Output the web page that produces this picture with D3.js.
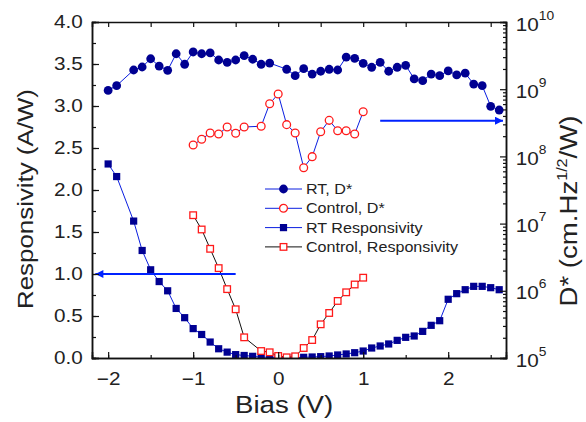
<!DOCTYPE html>
<html>
<head>
<meta charset="utf-8">
<script src="https://cdn.jsdelivr.net/npm/d3@7"></script>
<style>
body { margin: 0; background: #fff; }
text { font-family: "Liberation Sans", Arial, sans-serif; fill: #222; }
</style>
</head>
<body>
<div id="chart"></div>
<script>
var rtDBias = [-2.0, -1.9, -1.7, -1.6, -1.5, -1.4, -1.3, -1.2, -1.1, -1.0, -0.9, -0.8, -0.7, -0.6, -0.5, -0.4, -0.3, -0.2, -0.1,
    0.1, 0.2, 0.3, 0.4, 0.5, 0.6, 0.7, 0.8, 0.9, 1.0, 1.1, 1.2, 1.3, 1.4, 1.5, 1.6, 1.7, 1.8, 1.9, 2.0, 2.1, 2.2, 2.3, 2.4, 2.5, 2.6];
var rtD = [9.6e8, 1.13e9, 1.93e9, 2.14e9, 2.84e9, 2.21e9, 1.91e9, 3.37e9, 2.35e9, 3.58e9, 3.37e9, 3.46e9, 2.72e9, 2.51e9, 2.72e9, 3.16e9, 2.79e9, 2.35e9, 2.45e9,
    1.98e9, 1.59e9, 2.02e9, 1.68e9, 1.85e9, 1.98e9, 1.93e9, 3.01e9, 2.88e9, 2.43e9, 2.12e9, 2.51e9, 1.85e9, 2.12e9, 2.27e9, 1.42e9, 1.34e9, 1.68e9, 1.59e9, 1.87e9, 1.63e9, 1.73e9, 1.19e9, 1.13e9, 5.57e8, 4.9e8];

var ctrlDBias = [-1.0, -0.9, -0.8, -0.7, -0.6, -0.5, -0.4, -0.2, -0.1, 0.0, 0.1, 0.2, 0.3, 0.4, 0.5, 0.6, 0.7, 0.8, 0.9, 1.0];
var ctrlD = [1.48e8, 1.8e8, 2.23e8, 2.15e8, 2.74e8, 2.21e8, 2.74e8, 2.81e8, 6.08e8, 8.49e8, 2.97e8, 2.23e8, 6.79e7, 9.91e7, 2.33e8, 3.44e8, 2.41e8, 2.41e8, 2.15e8, 4.62e8];

var rtRespBias = [-2.0, -1.9, -1.7, -1.6, -1.5, -1.4, -1.3, -1.2, -1.1, -1.0, -0.9, -0.8, -0.7, -0.6, -0.5, -0.4, -0.3, -0.2, -0.1,
    0.0, 0.1, 0.2, 0.3, 0.4, 0.5, 0.6, 0.7, 0.8, 0.9, 1.0, 1.1, 1.2, 1.3, 1.4, 1.5, 1.6, 1.7, 1.8, 1.9, 2.0, 2.1, 2.2, 2.3, 2.4, 2.5, 2.6];
var rtResp = [2.31, 2.16, 1.63, 1.28, 1.05, 0.91, 0.80, 0.59, 0.48, 0.35, 0.28, 0.19, 0.11, 0.07, 0.04, 0.03, 0.02, 0.01, 0.01,
    0.005, 0.005, 0.006, 0.008, 0.012, 0.016, 0.024, 0.036, 0.048, 0.063, 0.083, 0.119, 0.143, 0.167, 0.21, 0.246, 0.262, 0.317, 0.389, 0.444,
    0.699, 0.766, 0.813, 0.853, 0.853, 0.837, 0.813];

var ctrlRespBias = [-1.0, -0.9, -0.8, -0.7, -0.6, -0.5, -0.4, -0.2, -0.1, 0.0, 0.1, 0.2, 0.3, 0.4, 0.5, 0.6, 0.7, 0.8, 0.9, 1.0];
var ctrlResp = [1.70, 1.53, 1.30, 1.07, 0.82, 0.58, 0.246, 0.083, 0.068, 0.024, 0.008, 0.02, 0.119, 0.214, 0.401, 0.536, 0.679, 0.782, 0.875, 0.956];

var xTicks = [-2, -1, 0, 1, 2];
var respTicks = [0, 0.5, 1.0, 1.5, 2.0, 2.5, 3.0, 3.5, 4.0];
var dExponents = [5, 6, 7, 8, 9, 10];
var legendLabels = ["RT, D*", "Control, D*", "RT Responsivity", "Control, Responsivity"];

var width = 586, height = 422,
    margin = {top: 22, right: 80, bottom: 64, left: 92},
    stretch = "scale(1.15,1)",
    navy = "#000092", red = "#ff1a1a", blue = "#0a1ee0";

var x = d3.scaleLinear().domain([-2.19, 2.68]).range([margin.left, width - margin.right]);
var y = d3.scaleLinear().domain([0, 4]).range([height - margin.bottom, margin.top]);
var yD = d3.scaleLog().domain([1e5, 1e10]).range([height - margin.bottom, margin.top]);

var svg = d3.select("#chart").append("svg")
    .attr("width", width)
    .attr("height", height);

svg.append("clipPath").attr("id", "plot")
  .append("rect")
    .attr("x", margin.left).attr("y", margin.top)
    .attr("width", width - margin.left - margin.right)
    .attr("height", height - margin.top - margin.bottom);

var series = [
    {bias: rtDBias, vals: rtD, scale: yD, line: blue, marker: "circle", fill: navy, stroke: "none"},
    {bias: ctrlDBias, vals: ctrlD, scale: yD, line: blue, marker: "circle", fill: "#fff", stroke: red},
    {bias: rtRespBias, vals: rtResp, scale: y, line: blue, marker: "square", fill: navy, stroke: "none"},
    {bias: ctrlRespBias, vals: ctrlResp, scale: y, line: "#111", marker: "square", fill: "#fff", stroke: red}
];

function addMarker(g, s, cx, cy) {
    if (s.marker == "circle") {
        g.append("circle").attr("cx", cx).attr("cy", cy)
            .attr("r", s.stroke == "none" ? 4.4 : 3.9)
            .attr("fill", s.fill).attr("stroke", s.stroke).attr("stroke-width", 1.3);
    } else {
        var h = s.stroke == "none" ? 3.6 : 3.3;
        g.append("rect").attr("x", cx - h).attr("y", cy - h)
            .attr("width", 2 * h).attr("height", 2 * h)
            .attr("fill", s.fill).attr("stroke", s.stroke).attr("stroke-width", 1.3);
    }
}

var plot = svg.append("g").attr("clip-path", "url(#plot)");

series.forEach(function(s) {
    var pts = s.bias.map(function(b, i) { return [x(b), s.scale(s.vals[i])]; });
    plot.append("path")
        .attr("d", d3.line()(pts))
        .attr("fill", "none")
        .attr("stroke", s.line)
        .attr("stroke-width", 1);
    var mg = plot.append("g");
    pts.forEach(function(p) { addMarker(mg, s, p[0], p[1]); });
});

// arrows pointing to their axes
svg.append("defs").append("marker")
    .attr("id", "head")
    .attr("viewBox", "0 0 10 10")
    .attr("refX", 10).attr("refY", 5)
    .attr("markerWidth", 4.5).attr("markerHeight", 4)
    .attr("orient", "auto")
  .append("path")
    .attr("d", "M0,0L10,5L0,10z")
    .attr("fill", "#0022ff");

var arrows = [
    {from: -0.5, to: -2.15, value: 1.0, scale: y},
    {from: 1.2, to: 2.645, value: 3.4e8, scale: yD}
];
arrows.forEach(function(a) {
    svg.append("line")
        .attr("x1", x(a.from)).attr("x2", x(a.to))
        .attr("y1", a.scale(a.value)).attr("y2", a.scale(a.value))
        .attr("stroke", "#0022ff")
        .attr("stroke-width", 2)
        .attr("marker-end", "url(#head)");
});

// axes
var bottom = height - margin.bottom, right = width - margin.right;

svg.append("g").attr("transform", "translate(0," + bottom + ")")
    .call(d3.axisBottom(x).tickValues(d3.range(-4, 6).map(function(i) { return i * 0.5; })).tickSize(-3).tickFormat(""));
svg.append("g").attr("transform", "translate(0," + bottom + ")")
    .call(d3.axisBottom(x).tickValues(xTicks).tickSize(-6).tickPadding(14).tickFormat(d3.format("d")));
svg.append("g").attr("transform", "translate(0," + margin.top + ")")
    .call(d3.axisTop(x).tickValues(d3.range(-4, 6).map(function(i) { return i * 0.5; })).tickSize(-5).tickFormat(""));

svg.append("g").attr("transform", "translate(" + margin.left + ",0)")
    .call(d3.axisLeft(y).tickValues(d3.range(0, 17).map(function(i) { return i * 0.25; })).tickSize(-4).tickFormat(""));
svg.append("g").attr("transform", "translate(" + margin.left + ",0)")
    .call(d3.axisLeft(y).tickValues(respTicks).tickSize(-7).tickPadding(8).tickFormat(d3.format(".1f")));

var minorD = [];
dExponents.slice(0, -1).forEach(function(e) {
    for (var k = 2; k < 10; k++) minorD.push(k * Math.pow(10, e));
});
svg.append("g").attr("transform", "translate(" + right + ",0)")
    .call(d3.axisRight(yD).tickValues(minorD).tickSize(-3).tickFormat(""));
var dAxis = svg.append("g").attr("transform", "translate(" + right + ",0)")
    .call(d3.axisRight(yD).tickValues(dExponents.map(function(e) { return Math.pow(10, e); })).tickSize(-6).tickFormat(""));

svg.selectAll(".domain").attr("stroke", "#111").attr("stroke-width", 1.5);
svg.selectAll(".tick line").attr("stroke", "#111").attr("stroke-width", 1.2);
svg.selectAll(".tick text")
    .attr("font-size", 18)
    .attr("font-family", "Liberation Sans, Arial, sans-serif")
    .attr("fill", "#222")
    .attr("transform", stretch);

dAxis.selectAll(".tick").each(function(v) {
    var t = d3.select(this).append("text")
        .attr("x", 8.5).attr("y", 8)
        .attr("font-size", 18)
        .attr("fill", "#222")
        .attr("text-anchor", "start")
        .attr("transform", stretch);
    t.append("tspan").text("10");
    t.append("tspan").attr("dy", -11).attr("font-size", 12).text(Math.round(Math.log10(v)));
});

// titles
svg.append("text")
    .attr("transform", "translate(" + x(0.07) + ",413) " + stretch)
    .attr("text-anchor", "middle")
    .attr("font-size", 24)
    .text("Bias (V)");

svg.append("text")
    .attr("transform", "translate(33,199) rotate(-90) " + stretch)
    .attr("text-anchor", "middle")
    .attr("font-size", 22.5)
    .text("Responsivity (A/W)");

var dTitle = svg.append("text")
    .attr("transform", "translate(577,211) rotate(-90) " + stretch)
    .attr("text-anchor", "middle")
    .attr("font-size", 24);
dTitle.append("tspan").text("D* (cm.Hz");
dTitle.append("tspan").attr("font-size", 14).attr("dy", -10).text("1/2");
dTitle.append("tspan").attr("dy", 10).text("/W)");

// legend
var legend = svg.append("g").attr("transform", "translate(265,189)");
legendLabels.forEach(function(name, i) {
    var s = series[i], g = legend.append("g").attr("transform", "translate(0," + i * 19.3 + ")");
    g.append("line").attr("x1", 0).attr("x2", 37).attr("stroke", s.line).attr("stroke-width", 1);
    addMarker(g, s, 18.5, 0);
    g.append("text")
        .attr("transform", "translate(41,5) " + stretch)
        .attr("font-size", 14)
        .text(name);
});
</script>
</body>
</html>
